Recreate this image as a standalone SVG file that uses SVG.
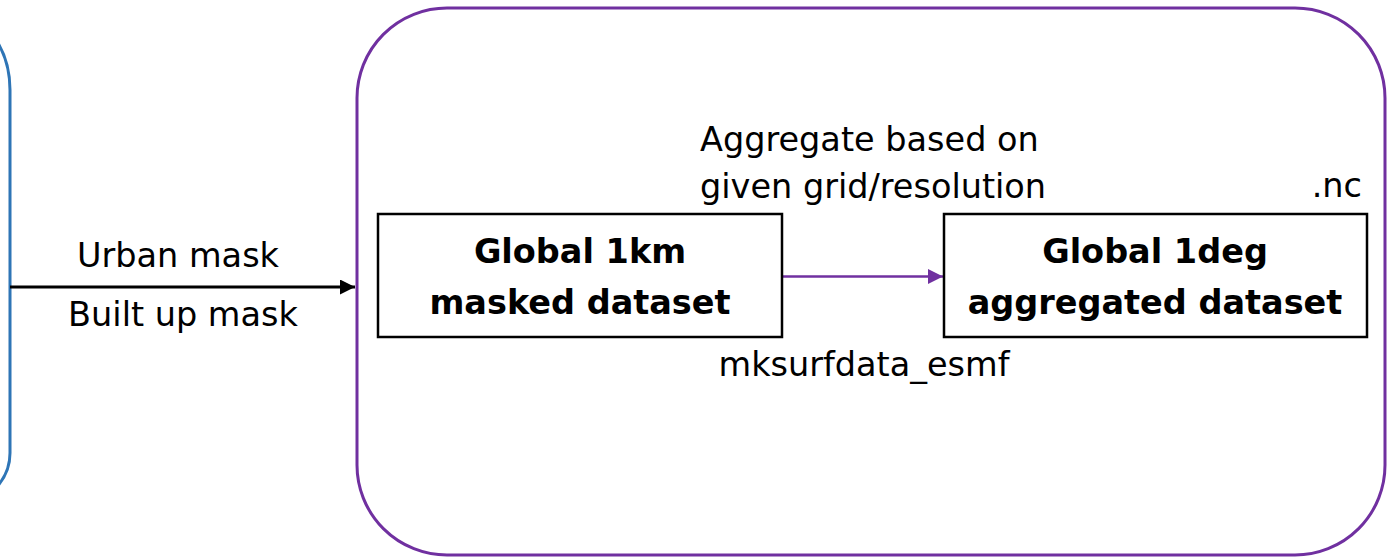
<svg xmlns="http://www.w3.org/2000/svg" width="1396" height="557" viewBox="0 0 1396 557">
<defs>
<style>
.t{font-family:"DejaVu Sans","Liberation Sans",sans-serif;font-size:33.5px;fill:#000}
.b{font-family:"DejaVu Sans","Liberation Sans",sans-serif;font-size:33.5px;font-weight:bold;fill:#000}
.box{fill:#fff;stroke:#000;stroke-width:2.5}
</style>
<marker id="ab" viewBox="0 0 10 10" refX="10" refY="5" markerWidth="15" markerHeight="15" markerUnits="userSpaceOnUse" orient="auto"><path d="M0,0 L10,5 L0,10 z" fill="#000"/></marker>
<marker id="ap" viewBox="0 0 10 10" refX="10" refY="5" markerWidth="15" markerHeight="15" markerUnits="userSpaceOnUse" orient="auto"><path d="M0,0 L10,5 L0,10 z" fill="#7030A0"/></marker>
</defs>
<rect width="1396" height="557" fill="#fff"/>
<g id="left-container">
<path d="M-50,12 A60,78 0 0 1 10,90 L10,453 A60,54 0 0 1 -50,507" fill="none" stroke="#2E75B6" stroke-width="3"/>
</g>
<g id="process-container">
<rect x="357" y="8" width="1028" height="547" rx="90" ry="90" fill="none" stroke="#7030A0" stroke-width="3"/>
</g>
<g id="connectors">
<line x1="10" y1="287" x2="355" y2="287" stroke="#000" stroke-width="3" marker-end="url(#ab)"/>
<line x1="782" y1="276.5" x2="943" y2="276.5" stroke="#7030A0" stroke-width="2.5" marker-end="url(#ap)"/>
<text class="t" x="178" y="267" text-anchor="middle">Urban mask</text>
<text class="t" x="183" y="326" text-anchor="middle">Built up mask</text>
<text class="t" x="700" y="151">Aggregate based on</text>
<text class="t" x="700" y="198">given grid/resolution</text>
<text class="t" x="864" y="376" text-anchor="middle">mksurfdata_esmf</text>
</g>
<g id="node-1km">
<rect class="box" x="378" y="214" width="404" height="123"/>
<text class="b" x="580" y="263" text-anchor="middle">Global 1km</text>
<text class="b" x="580" y="314" text-anchor="middle">masked dataset</text>
</g>
<g id="node-1deg">
<rect class="box" x="944" y="214" width="423" height="123"/>
<text class="b" x="1155" y="263" text-anchor="middle">Global 1deg</text>
<text class="b" x="1155" y="314" text-anchor="middle">aggregated dataset</text>
<text class="t" x="1362" y="197" text-anchor="end">.nc</text>
</g>
</svg>
